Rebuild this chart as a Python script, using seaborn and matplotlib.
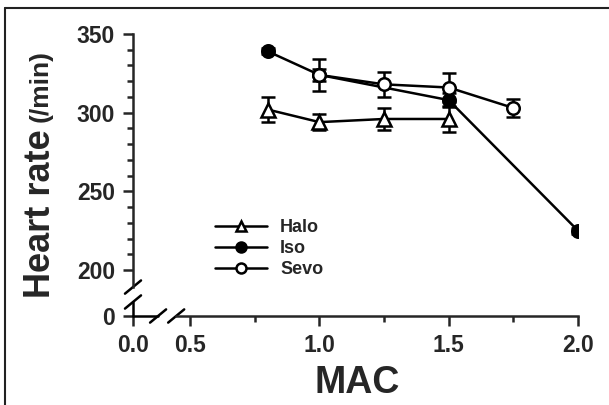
# %%
import numpy as np
import pandas as pd
import seaborn as sns
import matplotlib
matplotlib.use('Agg')
import matplotlib.pyplot as plt
from matplotlib.lines import Line2D
from matplotlib.ticker import FixedLocator

# %%
# Heart rate vs MAC for the three anaesthetics (mean +/- SEM)
mac_halo = [0.8, 1.0, 1.25, 1.5]
hr_halo = [302, 294, 296, 296]
sem_halo = [8, 5, 7, 8]

mac_iso = [0.8, 1.0, 1.5, 2.0]
hr_iso = [339, 324, 308, 225]
sem_iso = [2, 4, 4.5, 2]

mac_sevo = [1.0, 1.25, 1.5, 1.75]
hr_sevo = [324, 318, 316, 303]
sem_sevo = [10, 8, 9, 6]

y_ticks = [200, 250, 300, 350]
y_labels = ['0', '200', '250', '300', '350']
x_ticks = [0.5, 1.0, 1.5, 2.0]
x_labels = ['0.0', '0.5', '1.0', '1.5', '2.0']

# fake positions for the broken-axis zeros
y_zero = 170.8
x_zero = 0.279
y_brk = [189.2, 179.7]
x_brk = [0.376, 0.446]

# %%
sns.set_style('ticks')
plt.rcParams['font.family'] = ['Liberation Sans', 'DejaVu Sans']
plt.rcParams['font.weight'] = 'bold'

fig = plt.figure(figsize=(6.09, 4.05), dpi=100)
ax = fig.add_axes([133/609, 1-316/405, (578-133)/609, (316-34)/405])

lw = 1.8
series = [
    ('Halo', mac_halo, hr_halo, sem_halo, '^', 'white'),
    ('Iso', mac_iso, hr_iso, sem_iso, 'o', 'black'),
    ('Sevo', mac_sevo, hr_sevo, sem_sevo, 'o', 'white'),
]
# error bars first, underneath everything
for name, x, y, err, mk, fc in series:
    ax.errorbar(x, y, yerr=err, fmt='none', ecolor='black', elinewidth=lw,
                capsize=5, capthick=lw, zorder=1)

for i, (name, x, y, err, mk, fc) in enumerate(series):
    df = pd.DataFrame({'MAC': x, 'HR': y})
    sns.lineplot(data=df, x='MAC', y='HR', ax=ax, color='black', lw=lw,
                 marker=mk, markersize=9 if mk == 'o' else 9.5,
                 markerfacecolor=fc, markeredgecolor='black',
                 markeredgewidth=lw, label=name, zorder=5 + i)

ax.set_xlim(x_zero, 2.0)
ax.set_ylim(y_zero, 350)

ax.set_yticks([y_zero] + y_ticks)
ax.set_yticklabels(y_labels)
ax.yaxis.set_minor_locator(FixedLocator([v for v in np.arange(210, 350, 10) if v % 50]))
ax.set_xticks([x_zero] + x_ticks)
ax.set_xticklabels(x_labels)
ax.xaxis.set_minor_locator(FixedLocator([0.75, 1.25, 1.75]))

ax.tick_params(which='major', length=7, width=lw, labelsize=16.5, pad=6)
ax.tick_params(which='minor', length=4, width=lw)
for lab in ax.get_xticklabels() + ax.get_yticklabels():
    lab.set_fontweight('bold')

ax.set_xlabel('')
ax.set_ylabel('')
sns.despine(ax=ax)
for s in ['left', 'bottom']:
    ax.spines[s].set_linewidth(lw)
ax.spines['left'].set_bounds(y_brk[0], 350)
ax.spines['bottom'].set_bounds(x_brk[1], 2.0)

# short spine pieces and break marks
ax.plot([x_zero, x_zero], [y_zero, y_brk[1]], color='black', lw=lw, clip_on=False)
ax.plot([x_zero, x_brk[0]], [y_zero, y_zero], color='black', lw=lw, clip_on=False)
dx, dy = 0.031, 4.2
for yb in y_brk:
    ax.plot([x_zero - dx, x_zero + dx], [yb - dy, yb + dy], color='black', lw=lw, clip_on=False)
for xb in x_brk:
    ax.plot([xb - dx, xb + dx], [y_zero - dy, y_zero + dy], color='black', lw=lw, clip_on=False)

leg = ax.legend(loc='upper left', bbox_to_anchor=(215/609, 1-219/405),
                bbox_transform=fig.transFigure, frameon=False, fontsize=13,
                handlelength=2.9, handletextpad=0.7, labelspacing=0.22,
                borderpad=0, borderaxespad=0, markerscale=0.8)
for t in leg.get_texts():
    t.set_fontweight('bold')

# axis titles
fig.text(357/609, 1-393/405, 'MAC', ha='center', va='baseline',
         fontsize=27, fontweight='bold')
fig.text(50/609, 1-298/405, 'Heart rate', rotation=90, rotation_mode='anchor',
         ha='left', va='baseline', fontsize=26, fontweight='bold')
fig.text(48/609, 1-122/405, '(/min)', rotation=90, rotation_mode='anchor',
         ha='left', va='baseline', fontsize=19, fontweight='bold')

# outer frame (left and top only)
fig.add_artist(Line2D([5/609, 5/609], [0, 1-8/405], transform=fig.transFigure,
                      color='#222222', lw=1.5))
fig.add_artist(Line2D([5/609, 1], [1-8/405, 1-8/405], transform=fig.transFigure,
                      color='#222222', lw=1.5))

fig.savefig('out.png', dpi=100)
